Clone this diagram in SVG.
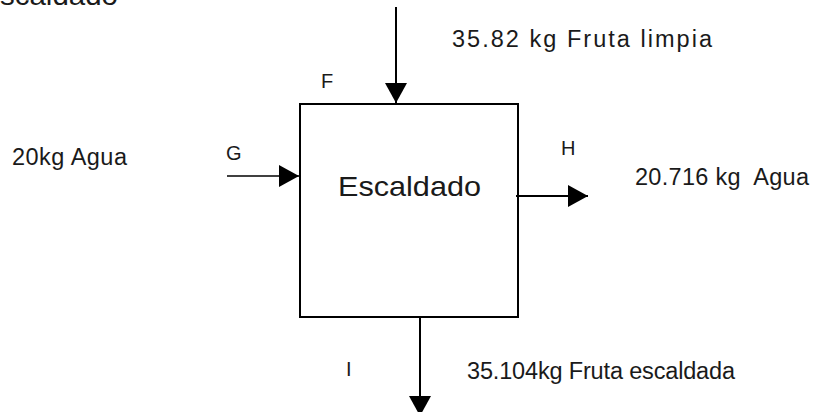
<svg xmlns="http://www.w3.org/2000/svg" width="814" height="412" viewBox="0 0 814 412">
<style>
text { font-family: "Liberation Sans", Arial, sans-serif; fill: #1a1a1a; }
.lbl { font-size: 23.5px; }
.letter { font-size: 20px; }
.title { font-size: 28px; }
.box { fill: #ffffff; stroke: #000000; stroke-width: 2; }
.flow { stroke: #000000; stroke-width: 2; fill: none; }
.thin { stroke-width: 1.3; }
</style>
<defs>
<marker id="arrow" markerUnits="userSpaceOnUse" markerWidth="21" markerHeight="22" refX="20" refY="11" orient="auto">
<path d="M0,0 L20,11 L0,22 Z" fill="#000000"/>
</marker>
</defs>
<rect width="814" height="412" fill="#ffffff"/>
<text id="title" class="title" x="0" y="5" textLength="118" lengthAdjust="spacingAndGlyphs">scaldado</text>
<g id="node-escaldado">
<rect class="box" x="300" y="104" width="218" height="213"/>
<text class="title" x="338" y="196" textLength="143" lengthAdjust="spacingAndGlyphs">Escaldado</text>
</g>
<g id="connectors">
<line class="flow" x1="396" y1="7" x2="396" y2="103" marker-end="url(#arrow)"/>
<line class="flow thin" x1="227" y1="176" x2="299" y2="176" marker-end="url(#arrow)"/>
<line class="flow" x1="516" y1="196" x2="588" y2="196" marker-end="url(#arrow)"/>
<line class="flow" x1="420" y1="317" x2="420" y2="416" marker-end="url(#arrow)"/>
</g>
<g id="label-F">
<text class="letter" x="321" y="88">F</text>
<text class="lbl" x="452" y="47" textLength="260" lengthAdjust="spacing">35.82 kg Fruta limpia</text>
</g>
<g id="label-G">
<text class="letter" x="226" y="160">G</text>
<text class="lbl" x="12" y="165" textLength="115" lengthAdjust="spacing">20kg Agua</text>
</g>
<g id="label-H">
<text class="letter" x="561" y="155">H</text>
<text class="lbl" x="635" y="185" textLength="174" lengthAdjust="spacing" style="white-space:pre">20.716 kg  Agua</text>
</g>
<g id="label-I">
<text class="letter" x="346" y="376">I</text>
<text class="lbl" x="467" y="379" textLength="268" lengthAdjust="spacing">35.104kg Fruta escaldada</text>
</g>
</svg>
